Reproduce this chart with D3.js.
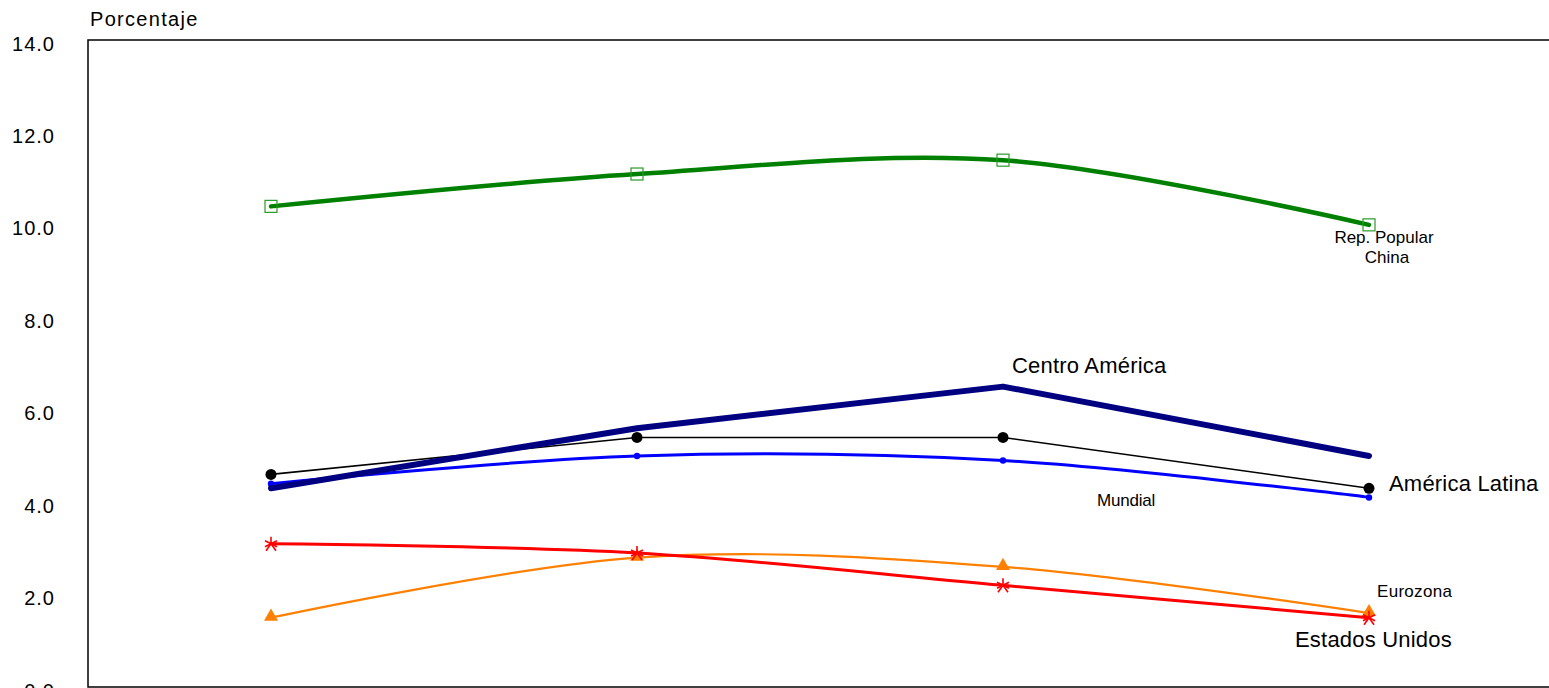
<!DOCTYPE html>
<html><head><meta charset="utf-8">
<script src="https://cdn.jsdelivr.net/npm/d3@7"></script>
<style>body{margin:0;background:#fff;overflow:hidden}svg{display:block;font-family:"Liberation Sans",Arial,sans-serif}</style>
</head><body><svg id="c" width="1549" height="688"></svg>
<script>
const categories = ["2006","2007","2008","2009"];
const china = [10.4, 11.1, 11.4, 10.0];
const centroAmerica = [4.3, 5.6, 6.5, 5.0];
const americaLatina = [4.6, 5.4, 5.4, 4.3];
const mundial = [4.4, 5.0, 4.9, 4.1];
const estadosUnidos = [3.1, 2.9, 2.2, 1.5];
const eurozona = [1.5, 2.8, 2.6, 1.6];
const yTicks = [0, 2, 4, 6, 8, 10, 12, 14];

const svg = d3.select("#c");
const L = 88, R = 1552, T = 40, B = 687;
const x = d3.scalePoint().domain(categories).range([L, R]).padding(0.5);
const y = d3.scaleLinear().domain([0, 14]).range([B, T]);

svg.append("rect").attr("x", L).attr("y", T).attr("width", R - L).attr("height", B - T)
  .attr("fill", "none").attr("stroke", "#000").attr("stroke-width", 1.5);

const ax = svg.append("g").attr("transform", `translate(${L},0)`)
  .call(d3.axisLeft(y).tickValues(yTicks).tickSize(0).tickPadding(33).tickFormat(d3.format(".1f")));
ax.select(".domain").remove();
ax.selectAll("text").attr("font-size", 20).attr("letter-spacing", 1).attr("dy", "0.5em")
  .attr("fill", "#000").attr("font-family", "Liberation Sans, Arial, sans-serif");

svg.append("text").attr("x", 90).attr("y", 26).attr("font-size", 20).attr("letter-spacing", 1.3).text("Porcentaje");

const smooth = d3.line().x((d, i) => x(categories[i])).y(d => y(d)).curve(d3.curveCardinal.tension(0));
const straight = d3.line().x((d, i) => x(categories[i])).y(d => y(d));

function series(vals, gen, color, w) {
  svg.append("path").attr("d", gen(vals)).attr("fill", "none").attr("stroke", color)
    .attr("stroke-width", w).attr("stroke-linejoin", "round").attr("stroke-linecap", "round");
}
const px = i => x(categories[i]);

// Eurozona
series(eurozona, smooth, "#ff8000", 2.2);
eurozona.forEach((v, i) => svg.append("path").attr("d", d3.symbol(d3.symbolTriangle, 85)())
  .attr("transform", `translate(${px(i)},${y(v) - 1})`).attr("fill", "#ff8000"));
// Estados Unidos
series(estadosUnidos, smooth, "#ff0000", 3);
estadosUnidos.forEach((v, i) => {
  const g = svg.append("g").attr("transform", `translate(${px(i)},${y(v)})`).attr("stroke", "#ff0000").attr("stroke-width", 1.6);
  g.append("line").attr("x1", 0).attr("y1", -7).attr("x2", 0).attr("y2", 0);
  g.append("line").attr("x1", -6).attr("y1", -3).attr("x2", 6).attr("y2", 3);
  g.append("line").attr("x1", 6).attr("y1", -3).attr("x2", -6).attr("y2", 3);
  g.append("line").attr("x1", 0).attr("y1", 0).attr("x2", -5).attr("y2", 7);
  g.append("line").attr("x1", 0).attr("y1", 0).attr("x2", 5).attr("y2", 7);
});
// Mundial
series(mundial, smooth, "#0000ff", 3);
mundial.forEach((v, i) => svg.append("circle").attr("cx", px(i)).attr("cy", y(v)).attr("r", 3.2).attr("fill", "#0000ff"));
// América Latina
series(americaLatina, straight, "#000", 1.6);
americaLatina.forEach((v, i) => svg.append("circle").attr("cx", px(i)).attr("cy", y(v)).attr("r", 5.5).attr("fill", "#000"));
// Centro América
series(centroAmerica, straight, "#000080", 6);
// China
series(china, smooth, "#008000", 4.5);
china.forEach((v, i) => svg.append("rect").attr("x", px(i) - 6).attr("y", y(v) - 6).attr("width", 12).attr("height", 12)
  .attr("fill", "none").attr("stroke", "#2a9a2a").attr("stroke-width", 1.2));

function label(t, xx, yy, size, anchor, ls) {
  svg.append("text").attr("x", xx).attr("y", yy).attr("font-size", size).attr("letter-spacing", ls || 0)
    .attr("text-anchor", anchor || "start").text(t);
}
label("Rep.  Popular", 1384, 243, 17, "middle", 0);
label("China", 1387, 263, 17, "middle", 0);
label("Centro América", 1012, 373, 22, "start", 0.2);
label("América Latina", 1389, 491, 22, "start", 0.2);
label("Mundial", 1097, 506, 17, "start", -0.2);
label("Eurozona", 1377, 597, 17, "start", 0.3);
label("Estados Unidos", 1295, 647, 22, "start", 0.2);
</script></body></html>
